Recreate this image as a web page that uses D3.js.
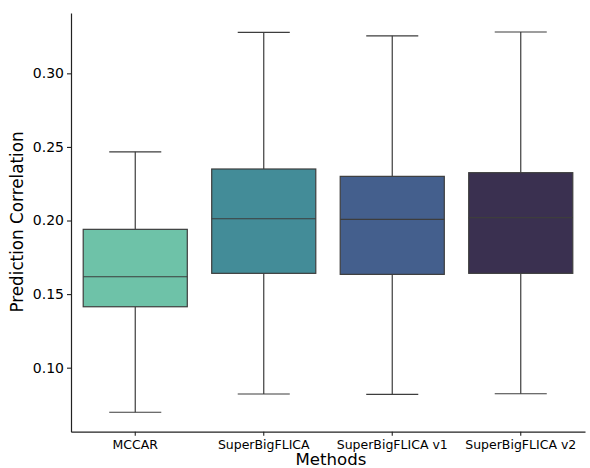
<!DOCTYPE html>
<html><head><meta charset="utf-8">
<script src="https://cdn.jsdelivr.net/npm/d3@7"></script>
<style>body{margin:0;background:#fff}svg{display:block}text{font-family:"DejaVu Sans",sans-serif}</style>
</head><body><svg id="c" width="590" height="468"></svg>
<script>
const categories = ["MCCAR","SuperBigFLICA","SuperBigFLICA v1","SuperBigFLICA v2"];
const whiskerLow = [0.0697,0.0821,0.0819,0.0823];
const q1 = [0.1414,0.1641,0.1634,0.1641];
const median = [0.1618,0.2012,0.2008,0.2019];
const q3 = [0.1940,0.2350,0.2300,0.2325];
const whiskerHigh = [0.2467,0.3279,0.3255,0.3281];
const colors = ["#6ec2a8","#438c98","#445f8d","#3a3050"];
const yTicks = [0.10,0.15,0.20,0.25,0.30];

const svg = d3.select("#c");
const x = d3.scaleBand().domain(categories).range([71,585]).paddingInner(0).paddingOuter(0);
const y = d3.scaleLinear().domain([0.0565,0.341]).range([431.7,13]);
const bw = x.bandwidth()*0.81;
const data = categories.map((c,i)=>({c,lo:whiskerLow[i],q1:q1[i],med:median[i],q3:q3[i],hi:whiskerHigh[i],col:colors[i]}));
const lc = "#3d3d3d";
const g = svg.append("g");
data.forEach(d=>{
  const cx = x(d.c)+x.bandwidth()/2;
  g.append("line").attr("x1",cx).attr("x2",cx).attr("y1",y(d.q3)).attr("y2",y(d.hi)).attr("stroke",lc).attr("stroke-width",1.2);
  g.append("line").attr("x1",cx).attr("x2",cx).attr("y1",y(d.q1)).attr("y2",y(d.lo)).attr("stroke",lc).attr("stroke-width",1.2);
  g.append("line").attr("x1",cx-bw/4).attr("x2",cx+bw/4).attr("y1",y(d.hi)).attr("y2",y(d.hi)).attr("stroke",lc).attr("stroke-width",1.2);
  g.append("line").attr("x1",cx-bw/4).attr("x2",cx+bw/4).attr("y1",y(d.lo)).attr("y2",y(d.lo)).attr("stroke",lc).attr("stroke-width",1.2);
  g.append("rect").attr("x",cx-bw/2).attr("y",y(d.q3)).attr("width",bw).attr("height",y(d.q1)-y(d.q3)).attr("fill",d.col).attr("stroke",lc).attr("stroke-width",1.2);
  g.append("line").attr("x1",cx-bw/2).attr("x2",cx+bw/2).attr("y1",y(d.med)).attr("y2",y(d.med)).attr("stroke",lc).attr("stroke-width",1.2);
});

const yAxis = svg.append("g").attr("transform","translate(71,0)")
  .call(d3.axisLeft(y).tickValues(yTicks).tickFormat(d3.format(".2f")).tickSizeInner(4).tickSizeOuter(0).tickPadding(3));
yAxis.selectAll("text").attr("font-size",14).attr("fill","#000").style("font-family","DejaVu Sans");
const xAxis = svg.append("g").attr("transform","translate(0,431.7)")
  .call(d3.axisBottom(x).tickSizeInner(4).tickSizeOuter(0).tickPadding(4));
xAxis.selectAll("text").attr("font-size",12.5).attr("fill","#000").style("font-family","DejaVu Sans");
[yAxis,xAxis].forEach(a=>{a.select(".domain").attr("stroke","#222").attr("stroke-width",1.2);a.selectAll(".tick line").attr("stroke","#222").attr("stroke-width",1.1);});

svg.append("text").attr("transform","translate(23,222) rotate(-90)").attr("text-anchor","middle").attr("font-size",16.8).text("Prediction Correlation");
svg.append("text").attr("x",331).attr("y",465).attr("text-anchor","middle").attr("font-size",16.6).text("Methods");
</script></body></html>
